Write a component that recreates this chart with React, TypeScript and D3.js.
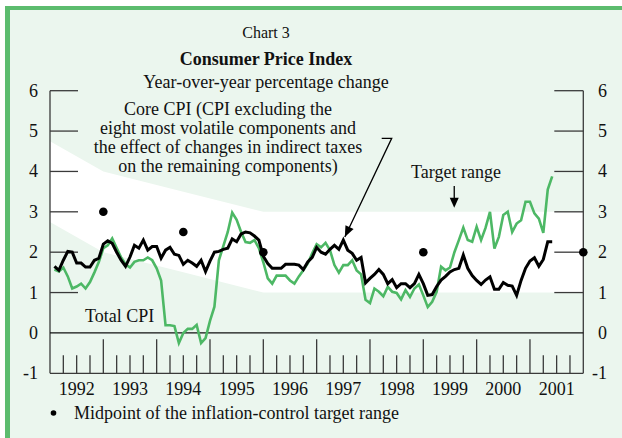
import React from 'react';
import * as d3 from 'd3';

// Monthly data, January 1992 to May 2001 (year-over-year % change)
const coreCPI: number[] = [
  1.65, 1.55, 1.8, 2.02, 2.0, 1.73, 1.73, 1.63, 1.63, 1.8, 1.85, 2.2,
  2.28, 2.22, 2.0, 1.8, 1.65, 1.88, 2.17, 2.1, 2.3, 2.05, 2.14, 2.14,
  1.85, 2.05, 2.12, 1.95, 1.92, 1.7, 1.8, 1.73, 1.65, 1.8, 1.52, 1.78,
  2.0, 2.02, 2.07, 2.1, 2.33, 2.26, 2.45, 2.5, 2.48, 2.4, 2.3, 1.9,
  1.72, 1.6, 1.6, 1.6, 1.7, 1.7, 1.7, 1.68, 1.57, 1.76, 1.87, 2.12,
  2.0, 1.95, 2.07, 2.17, 2.07, 2.3, 2.05, 1.97, 1.8, 1.87, 1.24, 1.35,
  1.45, 1.57, 1.45, 1.22, 1.32, 1.12, 1.22, 1.22, 1.12, 1.22, 1.45, 1.22,
  0.93, 0.95, 1.15, 1.31, 1.4, 1.51, 1.57, 1.6, 1.93, 1.6, 1.42, 1.3,
  1.2, 1.31, 1.39, 1.08, 1.08, 1.25, 1.18, 1.16, 0.93, 1.3, 1.6, 1.78,
  1.86, 1.65, 1.82, 2.26, 2.26,
];
const totalCPI: number[] = [
  1.57, 1.52, 1.62, 1.4, 1.1, 1.15, 1.22, 1.1, 1.26, 1.5, 1.76, 2.1,
  2.17, 2.34, 2.1, 1.87, 1.7, 1.62, 1.76, 1.8, 1.8, 1.87, 1.8, 1.6,
  1.3, 0.19, 0.19, 0.17, -0.25, 0.0, 0.1, 0.1, 0.2, -0.25, -0.13, 0.3,
  0.65, 1.8, 2.15, 2.5, 2.98, 2.8, 2.5, 2.25, 2.23, 2.3, 2.1, 1.75,
  1.35, 1.22, 1.42, 1.42, 1.42, 1.3, 1.22, 1.4, 1.55, 1.72, 1.97, 2.2,
  2.12, 2.23, 2.05, 1.68, 1.49, 1.68, 1.68, 1.8, 1.55, 1.45, 0.82, 0.74,
  1.1, 1.02, 0.91, 1.14, 1.02, 0.99, 0.83, 1.06, 0.89, 1.1, 1.2, 0.93,
  0.64, 0.77, 1.02, 1.64, 1.55, 1.62, 2.0, 2.3, 2.61, 2.3, 2.26, 2.63,
  2.3, 2.6, 3.0, 2.09, 2.38, 2.92, 3.0, 2.5, 2.71, 2.79, 3.25, 3.25,
  2.96, 2.83, 2.48, 3.55, 3.88,
];
const startYear = 1992;

// Inflation-control target range
const bandYears = [1992, 1993, 1994.5, 1996, 2002];
const bandLow = [2.75, 2, 1.5, 1, 1];
const bandHigh = [4.75, 4, 3.5, 3, 3];
const midYears = [1993, 1994.5, 1996, 1999, 2002];
const midValues = [3, 2.5, 2, 2, 2];

const yearLabels = ['1992', '1993', '1994', '1995', '1996', '1997', '1998', '1999', '2000', '2001'];
const yTicks = [-1, 0, 1, 2, 3, 4, 5, 6];

const coreNote = [
  'Core CPI (CPI excluding the',
  'eight most volatile components and',
  'the effect of changes in indirect taxes',
  'on the remaining components)',
];

const FONT = '"Liberation Serif", "Times New Roman", serif';
const MINT = '#ebf6ee';
const FRAME = '#5cbc6e';
const GREEN = '#4db865';
const AXIS = '#3a3a3a';

export default function App() {
  const W = 622, H = 438;
  const x = d3.scaleLinear().domain([1992, 2002]).range([50, 583.3]);
  const y = d3.scaleLinear().domain([-1, 6]).range([373.3, 90.7]);
  const tOf = (i: number) => startYear + (i + 1) / 12;

  const line = d3.line<number>().x((_, i) => x(tOf(i))).y((d) => y(d));
  const band = d3
    .area<number>()
    .x((d) => x(d))
    .y0((_, i) => y(bandLow[i]))
    .y1((_, i) => y(bandHigh[i]));

  const x0 = x(1992), x1 = x(2002);
  const yTop = y(6), yBot = y(-1);

  const quarters: number[] = [];
  for (let q = 1992.25; q < 2002; q += 0.25) quarters.push(q);

  // arrow for core CPI annotation
  const tipIdx = 65;
  const tip: [number, number] = [x(tOf(tipIdx)) + 1.5, y(coreCPI[tipIdx]) - 3];
  const elbow: [number, number] = [391.7, 138.3];
  const startA: [number, number] = [381.7, 138.3];
  const dx = tip[0] - elbow[0], dy = tip[1] - elbow[1];
  const len = Math.hypot(dx, dy);
  const ux = dx / len, uy = dy / len;
  const ah = 11, aw = 4.5;
  const headPts = [
    tip,
    [tip[0] - ux * ah - uy * aw, tip[1] - uy * ah + ux * aw],
    [tip[0] - ux * ah + uy * aw, tip[1] - uy * ah - ux * aw],
  ];

  const trX = x(1999.58);
  const trTip = y(3) - 4;

  return (
    <svg
      width={W}
      height={H}
      style={{ position: 'absolute', left: 0, top: 0, display: 'block' }}
      fontFamily={FONT}
    >
      <rect x={0} y={0} width={W} height={H} fill="#ffffff" />
      <rect x={5} y={6} width={W - 5} height={H - 6} fill={MINT} />
      <rect x={5} y={6} width={W - 5} height={4} fill={FRAME} />
      <rect x={5} y={6} width={5} height={H - 6} fill={FRAME} />

      {/* target band */}
      <path d={band(bandYears) || ''} fill="#ffffff" />

      {/* titles */}
      <text x={266} y={38} textAnchor="middle" fontSize={16} fill="#111">Chart 3</text>
      <text x={266} y={65} textAnchor="middle" fontSize={18} fontWeight="bold" fill="#111">
        Consumer Price Index
      </text>
      <text x={266} y={88} textAnchor="middle" fontSize={18} fill="#111">
        Year-over-year percentage change
      </text>

      {/* axes */}
      <line x1={x0} x2={x0} y1={yTop} y2={yBot} stroke={AXIS} strokeWidth={1.3} />
      <line x1={x1} x2={x1} y1={yTop} y2={yBot} stroke={AXIS} strokeWidth={1.3} />
      <line x1={x0} x2={x1} y1={y(0)} y2={y(0)} stroke="#111" strokeWidth={1.2} />
      <line x1={x0} x2={x1} y1={yBot} y2={yBot} stroke={AXIS} strokeWidth={1.3} />
      {yTicks.filter((v) => v > 0).map((v) => (
        <g key={'yt' + v}>
          <line x1={x0} x2={x0 + 28} y1={y(v)} y2={y(v)} stroke={AXIS} strokeWidth={1.3} />
          <line x1={x1 - 29} x2={x1} y1={y(v)} y2={y(v)} stroke={AXIS} strokeWidth={1.3} />
        </g>
      ))}
      {yTicks.map((v) => (
        <g key={'yl' + v} fontSize={18} fill="#111">
          <text x={38} y={y(v) + 6} textAnchor="end">{v < 0 ? '-' + Math.abs(v) : v}</text>
          <text x={607} y={y(v) + 6} textAnchor="end">{v < 0 ? '-' + Math.abs(v) : v}</text>
        </g>
      ))}
      {quarters.map((q) => {
        const major = Math.abs(q - Math.round(q)) < 1e-6;
        return (
          <line
            key={'q' + q}
            x1={x(q)}
            x2={x(q)}
            y1={major ? yBot - 34 : yBot - 18}
            y2={yBot}
            stroke={AXIS}
            strokeWidth={1.3}
          />
        );
      })}
      {yearLabels.map((lab, i) => (
        <text key={lab} x={x(1992 + i + 0.5)} y={395} textAnchor="middle" fontSize={18} fill="#111">
          {lab}
        </text>
      ))}

      {/* series */}
      <path d={line(totalCPI) || ''} fill="none" stroke={GREEN} strokeWidth={2.6} strokeLinejoin="miter" />
      <path d={line(coreCPI) || ''} fill="none" stroke="#000" strokeWidth={3} strokeLinejoin="miter" />

      {/* midpoints */}
      {midYears.map((yr, i) => (
        <circle key={'m' + i} cx={x(yr)} cy={y(midValues[i])} r={4.3} fill="#000" />
      ))}

      {/* annotations */}
      {coreNote.map((s, i) => (
        <text key={'n' + i} x={228} y={115 + i * 18.9} textAnchor="middle" fontSize={18} fill="#111">
          {s}
        </text>
      ))}
      <polyline
        points={[startA, elbow, tip].map((p) => p.join(',')).join(' ')}
        fill="none"
        stroke="#000"
        strokeWidth={1.3}
      />
      <polygon points={headPts.map((p) => p.join(',')).join(' ')} fill="#000" />

      <text x={456} y={178} textAnchor="middle" fontSize={18} fill="#111">Target range</text>
      <line x1={trX} x2={trX} y1={186} y2={trTip - 8} stroke="#000" strokeWidth={1.3} />
      <polygon points={`${trX - 4.5},${trTip - 10} ${trX + 4.5},${trTip - 10} ${trX},${trTip}`} fill="#000" />

      <text x={85} y={322} fontSize={18} fill="#111">Total CPI</text>

      {/* legend */}
      <circle cx={53.5} cy={413} r={2.8} fill="#000" />
      <text x={74} y={419} fontSize={18} fill="#111">
        Midpoint of the inflation-control target range
      </text>
    </svg>
  );
}
